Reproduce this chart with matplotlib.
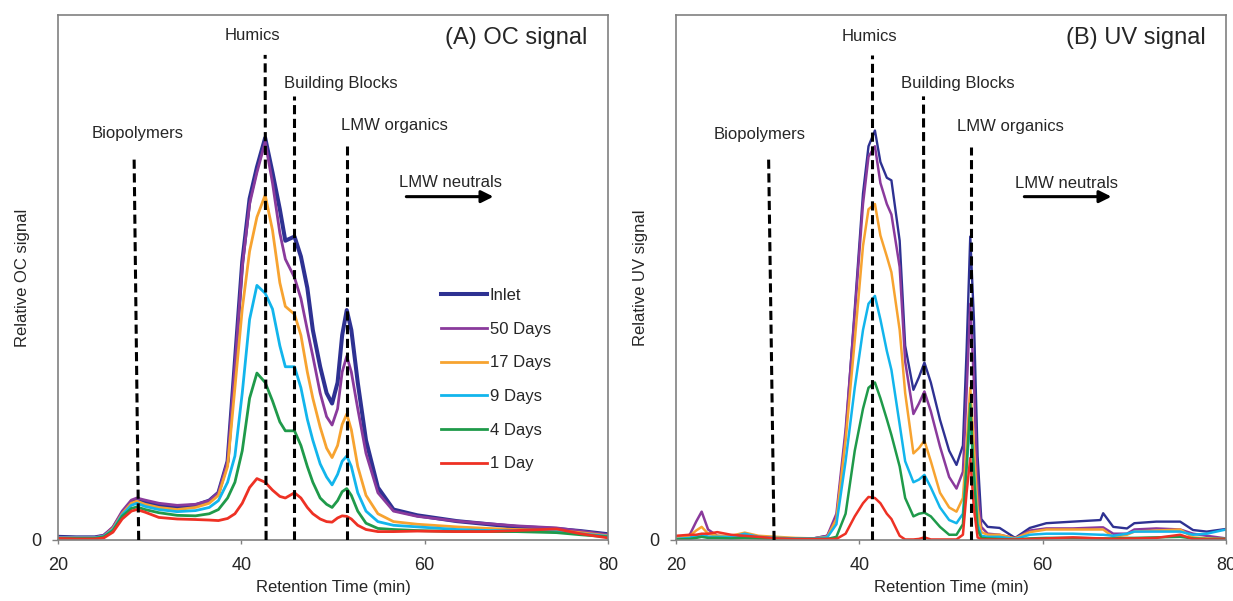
import matplotlib
matplotlib.use('Agg')
import matplotlib.pyplot as plt

plt.rcParams['font.family'] = ['Liberation Sans', 'DejaVu Sans']

# --- Datos: cromatogramas LC-OCD (señal relativa) ---
series_names = ['Inlet', '50 Days', '17 Days', '9 Days', '4 Days', '1 Day']
series_colors = ['#2e3192', '#8a3a9c', '#f7a330', '#12b5ec', '#1f9a4a', '#ee3124']

# Señal OC
t_oc = [20, 22, 24, 25, 26, 27, 28, 28.6, 29.5, 31,
        33, 35, 36.5, 37.5, 38.5, 39.3, 40.1, 40.9, 41.7, 42.6,
        43.4, 44.2, 44.8, 45.8, 46.5, 47.2, 47.8, 48.6, 49.3, 49.9,
        50.5, 51.0, 51.5, 52.0, 52.7, 53.6, 54.9, 56.6, 59.2, 63.5,
        67, 70, 74.4, 77, 80]
oc_inlet = [0.006, 0.005, 0.005, 0.008, 0.022, 0.05, 0.072, 0.076, 0.072, 0.066,
            0.063, 0.066, 0.075, 0.09, 0.15, 0.34, 0.53, 0.65, 0.71, 0.766,
            0.70, 0.63, 0.57, 0.578, 0.54, 0.48, 0.40, 0.33, 0.28, 0.26,
            0.30, 0.39, 0.438, 0.40, 0.30, 0.19, 0.10, 0.058, 0.047, 0.036,
            0.030, 0.025, 0.021, 0.017, 0.011]
oc_50d = [0.005, 0.005, 0.005, 0.009, 0.025, 0.055, 0.076, 0.08, 0.076, 0.07,
          0.066, 0.068, 0.075, 0.09, 0.15, 0.33, 0.52, 0.64, 0.70, 0.758,
          0.68, 0.585, 0.535, 0.50, 0.46, 0.40, 0.35, 0.28, 0.235, 0.219,
          0.25, 0.32, 0.35, 0.32, 0.25, 0.165, 0.09, 0.055, 0.045, 0.036,
          0.031, 0.027, 0.023, 0.017, 0.010]
oc_17d = [0.004, 0.004, 0.004, 0.007, 0.022, 0.05, 0.07, 0.074, 0.068, 0.062,
          0.058, 0.062, 0.07, 0.085, 0.14, 0.29, 0.44, 0.55, 0.615, 0.657,
          0.59, 0.49, 0.445, 0.43, 0.39, 0.32, 0.27, 0.215, 0.175, 0.157,
          0.18, 0.22, 0.24, 0.21, 0.14, 0.085, 0.05, 0.035, 0.03, 0.025,
          0.022, 0.02, 0.018, 0.014, 0.008]
oc_9d = [0.004, 0.004, 0.004, 0.007, 0.02, 0.048, 0.066, 0.07, 0.064, 0.058,
         0.054, 0.056, 0.062, 0.075, 0.11, 0.16, 0.28, 0.42, 0.485, 0.47,
         0.44, 0.37, 0.33, 0.33, 0.29, 0.23, 0.19, 0.145, 0.12, 0.105,
         0.125, 0.15, 0.16, 0.14, 0.09, 0.055, 0.035, 0.028, 0.025, 0.02,
         0.018, 0.018, 0.016, 0.012, 0.007]
oc_4d = [0.003, 0.003, 0.003, 0.006, 0.018, 0.045, 0.06, 0.063, 0.058, 0.052,
         0.047, 0.046, 0.05, 0.058, 0.08, 0.11, 0.17, 0.27, 0.318, 0.30,
         0.265, 0.225, 0.208, 0.208, 0.18, 0.14, 0.11, 0.08, 0.068, 0.062,
         0.075, 0.092, 0.098, 0.085, 0.055, 0.032, 0.022, 0.02, 0.018, 0.016,
         0.016, 0.016, 0.014, 0.01, 0.006]
oc_1d = [0.003, 0.002, 0.002, 0.004, 0.015, 0.04, 0.055, 0.058, 0.053, 0.043,
         0.040, 0.039, 0.038, 0.037, 0.041, 0.05, 0.07, 0.10, 0.117, 0.11,
         0.095, 0.083, 0.08, 0.09, 0.08, 0.062, 0.05, 0.04, 0.035, 0.034,
         0.042, 0.046, 0.045, 0.04, 0.028, 0.02, 0.016, 0.016, 0.017, 0.016,
         0.016, 0.018, 0.021, 0.012, 0.004]

# Señal UV
t_uv = [20, 21.5, 22.2, 22.8, 23.5, 24.5, 26, 27.5, 29, 31,
        33, 35, 36.5, 37.5, 38.5, 39.5, 40.4, 41.0, 41.7, 42.3,
        43.0, 43.5, 44.4, 45.0, 45.9, 46.5, 47.1, 47.8, 48.8, 49.8,
        50.6, 51.3, 51.7, 52.1, 52.5, 52.9, 53.3, 54.0, 55.3, 57.0,
        58.6, 60.4, 63.3, 66.3, 66.6, 67.7, 69.2, 70.0, 72.4, 75.0,
        76.4, 77.9, 80]
uv_inlet = [0.004, 0.005, 0.006, 0.008, 0.006, 0.005, 0.004, 0.006, 0.004, 0.003,
            0.003, 0.003, 0.008, 0.04, 0.2, 0.44, 0.66, 0.75, 0.78, 0.72,
            0.69, 0.685, 0.57, 0.37, 0.286, 0.31, 0.338, 0.30, 0.229, 0.17,
            0.143, 0.18, 0.36, 0.578, 0.42, 0.16, 0.04, 0.025, 0.023, 0.004,
            0.023, 0.032, 0.035, 0.038, 0.051, 0.025, 0.022, 0.032, 0.035, 0.035,
            0.019, 0.016, 0.021]
uv_50d = [0.002, 0.01, 0.035, 0.054, 0.02, 0.008, 0.006, 0.008, 0.005, 0.003,
          0.003, 0.003, 0.008, 0.05, 0.21, 0.43, 0.64, 0.73, 0.75, 0.68,
          0.64, 0.62, 0.52, 0.34, 0.24, 0.26, 0.283, 0.245, 0.178, 0.12,
          0.098, 0.13, 0.28, 0.45, 0.3, 0.1, 0.025, 0.012, 0.01, 0.003,
          0.018, 0.022, 0.022, 0.024, 0.024, 0.012, 0.012, 0.02, 0.022, 0.02,
          0.012, 0.008, 0.003]
uv_17d = [0.003, 0.008, 0.018, 0.025, 0.012, 0.008, 0.008, 0.014, 0.008, 0.006,
          0.004, 0.003, 0.006, 0.04, 0.19, 0.38, 0.56, 0.63, 0.64, 0.58,
          0.54, 0.51, 0.40, 0.28, 0.165, 0.175, 0.189, 0.15, 0.09, 0.062,
          0.054, 0.08, 0.18, 0.29, 0.18, 0.06, 0.015, 0.01, 0.01, 0.003,
          0.015, 0.02, 0.02, 0.02, 0.02, 0.006, 0.01, 0.016, 0.018, 0.02,
          0.005, 0.003, 0.002]
uv_9d = [0.002, 0.004, 0.008, 0.01, 0.006, 0.006, 0.006, 0.012, 0.006, 0.004,
         0.003, 0.003, 0.005, 0.03, 0.15, 0.29, 0.40, 0.45, 0.465, 0.42,
         0.36, 0.324, 0.22, 0.15, 0.11, 0.115, 0.124, 0.10, 0.062, 0.038,
         0.032, 0.05, 0.14, 0.229, 0.13, 0.03, 0.008, 0.006, 0.006, 0.002,
         0.01, 0.012, 0.012, 0.01, 0.01, 0.008, 0.012, 0.016, 0.016, 0.016,
         0.01, 0.012, 0.02]
uv_4d = [0.001, 0.002, 0.004, 0.006, 0.004, 0.004, 0.003, 0.004, 0.003, 0.002,
         0.002, 0.002, 0.002, 0.006, 0.05, 0.17, 0.25, 0.29, 0.30, 0.27,
         0.23, 0.2, 0.14, 0.08, 0.045, 0.05, 0.052, 0.045, 0.025, 0.01,
         0.01, 0.03, 0.14, 0.26, 0.12, 0.02, 0.004, 0.003, 0.002, 0.001,
         0.003, 0.004, 0.004, 0.003, 0.003, 0.003, 0.004, 0.004, 0.005, 0.006,
         0.003, 0.002, 0.002]
uv_1d = [0.008, 0.01, 0.01, 0.012, 0.012, 0.015, 0.01, 0.008, 0.006, 0.003,
         0.002, 0.002, 0.002, 0.002, 0.012, 0.045, 0.07, 0.082, 0.08, 0.07,
         0.05, 0.04, 0.008, 0.001, 0.001, 0.002, 0.005, 0.001, 0.001, 0.001,
         0.001, 0.01, 0.09, 0.156, 0.06, 0.005, 0.001, 0.001, 0.001, 0.001,
         0.002, 0.003, 0.005, 0.003, 0.003, 0.002, 0.003, 0.003, 0.004, 0.01,
         0.002, 0.001, 0.001]

oc_series = [oc_inlet, oc_50d, oc_17d, oc_9d, oc_4d, oc_1d]
uv_series = [uv_inlet, uv_50d, uv_17d, uv_9d, uv_4d, uv_1d]

# Fracciones: (nombre, x abajo, x arriba, altura de la línea)
oc_fractions = [('Biopolymers', 28.8, 28.3, 0.733),
                ('Humics', 42.7, 42.6, 0.924),
                ('Building Blocks', 45.8, 45.8, 0.846),
                ('LMW organics', 51.5, 51.5, 0.751)]
uv_fractions = [('Biopolymers', 30.7, 30.1, 0.731),
                ('Humics', 41.4, 41.4, 0.923),
                ('Building Blocks', 47.1, 47.0, 0.845),
                ('LMW organics', 52.2, 52.2, 0.749)]

text_col = '#262626'
spine_col = '#808080'

fig = plt.figure(figsize=(12.33, 6.01), dpi=100)
W, H = 1233, 601
ax_oc = fig.add_axes([58 / W, 1 - 540 / H, 550 / W, 525 / H])
ax_uv = fig.add_axes([676 / W, 1 - 540 / H, 550 / W, 525 / H])


def dibujar(ax, t, series, widths, fractions, label_pos, title, ylabel):
    for vals, name, col, lw in zip(series, series_names, series_colors, widths):
        ax.plot(t, vals, color=col, lw=lw, label=name, solid_joinstyle='round')

    for name, xb, xt, ytop in fractions:
        ax.plot([xb, xt], [0, ytop], color='black', lw=2.2,
                linestyle=(0, (3, 1.5)), zorder=5)

    for name, (xl, yl) in label_pos.items():
        ax.text(xl, yl, name, ha='center', va='center', fontsize=12, color=text_col)

    # Flecha de LMW neutrals
    ax.annotate('', xy=(67.5, 0.654), xytext=(58.0, 0.654),
                arrowprops=dict(arrowstyle='-|>', color='black', lw=2.2,
                                mutation_scale=18, shrinkA=0, shrinkB=0))

    ax.text(77.8, 0.956, title, ha='right', va='center', fontsize=17, color=text_col)

    ax.set_xlim(20, 80)
    ax.set_ylim(0, 1)
    ax.set_xticks([20, 40, 60, 80])
    ax.set_yticks([0])
    ax.tick_params(axis='x', direction='out', length=3, width=1, color=spine_col,
                   labelsize=13, labelcolor=text_col, pad=9)
    ax.tick_params(axis='y', direction='out', length=4, width=1, color=spine_col,
                   labelsize=13, labelcolor=text_col, pad=8)
    for sp in ax.spines.values():
        sp.set_color(spine_col)
        sp.set_linewidth(1.2)

    ax.set_xlabel('Retention Time (min)', fontsize=12, color=text_col)
    ax.xaxis.set_label_coords(0.5, -0.076)
    ax.set_ylabel(ylabel, fontsize=12, color=text_col)
    ax.yaxis.set_label_coords(-0.05, 0.5)


oc_labels = {'Biopolymers': (28.7, 0.774), 'Humics': (41.2, 0.96),
             'Building Blocks': (50.9, 0.87), 'LMW organics': (56.7, 0.789),
             'LMW neutrals': (62.8, 0.681)}
uv_labels = {'Biopolymers': (29.1, 0.773), 'Humics': (41.1, 0.959),
             'Building Blocks': (50.7, 0.869), 'LMW organics': (56.5, 0.788),
             'LMW neutrals': (62.6, 0.68)}

dibujar(ax_oc, t_oc, oc_series, [2.9, 2.0, 2.0, 2.0, 2.0, 2.0],
        oc_fractions, oc_labels, '(A) OC signal', 'Relative OC signal')
dibujar(ax_uv, t_uv, uv_series, [1.7, 1.8, 1.8, 1.8, 1.8, 1.8],
        uv_fractions, uv_labels, '(B) UV signal', 'Relative UV signal')

leg = ax_oc.legend(loc='upper left', bbox_to_anchor=(0.696, 0.48), frameon=False,
                   fontsize=12, handlelength=2.75, handletextpad=0.18,
                   labelspacing=1.12, borderpad=0, borderaxespad=0)
for txt in leg.get_texts():
    txt.set_color(text_col)

plt.savefig('out.png', dpi=100)
